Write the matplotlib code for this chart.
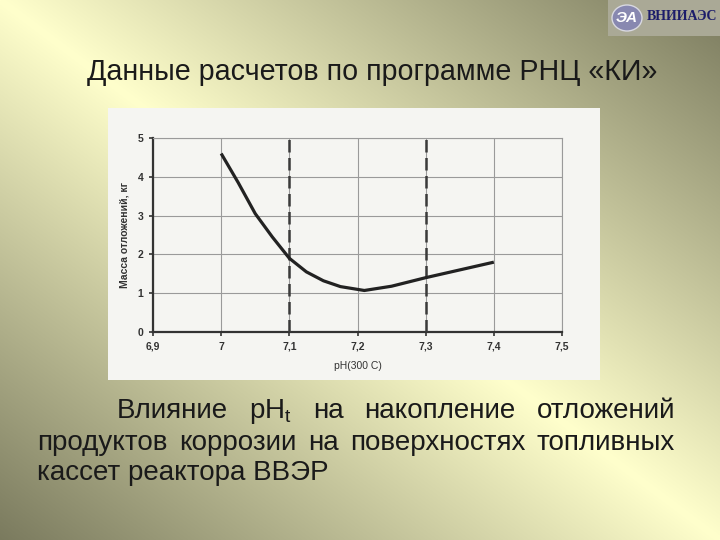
import numpy as np
import matplotlib
matplotlib.use("Agg")
import matplotlib.pyplot as plt
from matplotlib.patches import Rectangle, Ellipse

plt.rcParams['font.family'] = ['Liberation Sans', 'DejaVu Sans']
plt.rcParams['mathtext.fontset'] = 'custom'
plt.rcParams['mathtext.rm'] = 'Liberation Sans'

# данные с графика
ph = [7.0, 7.025, 7.05, 7.075, 7.1, 7.125, 7.15, 7.175, 7.21, 7.25, 7.3, 7.35, 7.4]
mass = [4.6, 3.85, 3.05, 2.45, 1.9, 1.55, 1.32, 1.17, 1.07, 1.18, 1.4, 1.6, 1.8]
boundaries = [7.1, 7.3]
x_ticks = [6.9, 7.0, 7.1, 7.2, 7.3, 7.4, 7.5]
x_labels = ["6,9", "7", "7,1", "7,2", "7,3", "7,4", "7,5"]
y_ticks = [0, 1, 2, 3, 4, 5]

title = "Данные расчетов по программе РНЦ «КИ»"
line1 = ["Влияние", r"pH$_\mathrm{t}$", "на", "накопление", "отложений"]
line2 = ["продуктов", "коррозии", "на", "поверхностях", "топливных"]
line3 = "кассет реактора ВВЭР"

W, H = 720, 540
fig = plt.figure(figsize=(7.2, 5.4), dpi=100)


def fx(px):
    return px / W


def fy(py):
    return 1 - py / H


# фон слайда: светлый в углах TL/BR, темный в TR/BL
bg = fig.add_axes([0, 0, 1, 1], zorder=0)
u, v = np.meshgrid(np.linspace(0, 1, W), np.linspace(0, 1, H))
t = np.abs(u - v)[..., None]
light = np.array([1.0, 1.0, 0.80])
dark = np.array([0.48, 0.48, 0.37])
bg.imshow(light + (dark - light) * t, aspect='auto', extent=[0, 1, 0, 1])
bg.set_xlim(0, 1)
bg.set_ylim(0, 1)
bg.set_axis_off()

# вставка с графиком (белая подложка)
bg.add_patch(Rectangle((fx(108), fy(380)), fx(492), 272 / H, facecolor='#f5f5f2', edgecolor='none'))

# логотип
bg.add_patch(Rectangle((fx(608), fy(36)), fx(112), 36 / H, facecolor='#aaa996', edgecolor='none'))
bg.add_patch(Ellipse((fx(627), fy(18)), fx(30), 26 / H, facecolor='#8888b0', edgecolor='#d8d8e0', lw=1))
bg.text(fx(627), fy(18), "ЭА", color='white', fontsize=11, fontweight='bold', style='italic',
        ha='center', va='center')
bg.text(fx(682), fy(17), "ВНИИАЭС", color='#1c1c6a', fontsize=10, fontweight='bold',
        family=['Liberation Serif', 'DejaVu Serif'], ha='center', va='center')

# заголовок
fig.text(fx(372), fy(72), title, fontsize=20.6, color='#1a1a1a', ha='center', va='center')

ax = fig.add_axes([fx(153), fy(332), fx(409), 194 / H], zorder=3)
ax.set_facecolor('#f5f5f2')
ax.plot(ph, mass, color='#222222', lw=2.3, solid_capstyle='butt', solid_joinstyle='round', zorder=4)
for b in boundaries:
    ax.axvline(b, color='#3a3a3a', lw=1.8, dashes=(5, 2.2), zorder=3)
ax.set_xlim(6.9, 7.5)
ax.set_ylim(0, 5)
ax.set_xticks(x_ticks)
ax.set_xticklabels(x_labels)
ax.set_yticks(y_ticks)
ax.grid(True, color='#9a9a9a', lw=0.8)
for s in ['top', 'right']:
    ax.spines[s].set_color('#9a9a9a')
    ax.spines[s].set_linewidth(0.8)
for s in ['left', 'bottom']:
    ax.spines[s].set_color('#333333')
    ax.spines[s].set_linewidth(1.6)
ax.tick_params(length=3, width=1.2, color='#333333', labelsize=7.5, labelcolor='#333333', pad=4)
for lab in ax.get_xticklabels() + ax.get_yticklabels():
    lab.set_fontweight('bold')
ax.set_xlabel("pH(300 C)", fontsize=7.5, color='#333333', labelpad=7)
ax.set_ylabel("Масса отложений, кг", fontsize=7.5, color='#333333', fontweight='bold', labelpad=6)

# подпись, выровненная по ширине
renderer = fig.canvas.get_renderer()


def justify(words, x0, x1, base):
    texts = [fig.text(0, fy(base), w, fontsize=20, color='#1a1a1a', va='baseline') for w in words]
    widths = [tx.get_window_extent(renderer).width for tx in texts]
    gap = (x1 - x0 - sum(widths)) / (len(words) - 1)
    x = x0
    for tx, wd in zip(texts, widths):
        tx.set_x(fx(x))
        x += wd + gap


justify(line1, 117, 675, 418)
justify(line2, 37, 675, 450)
fig.text(fx(37), fy(480), line3, fontsize=20, color='#1a1a1a', va='baseline')

fig.savefig("out.png", dpi=100)
